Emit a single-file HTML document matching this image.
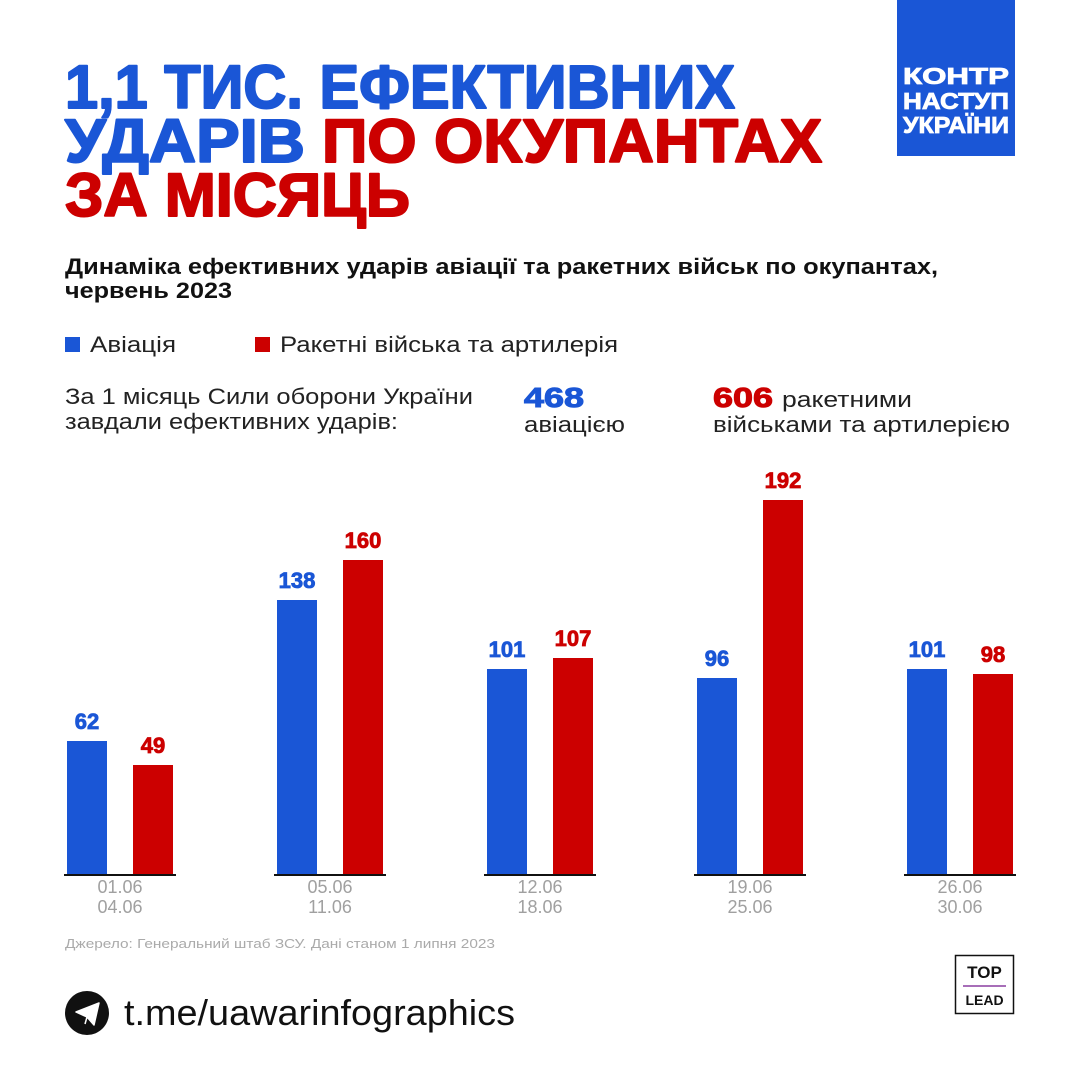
<!DOCTYPE html>
<html><head><meta charset="utf-8"><style>
html,body{margin:0;padding:0;background:#fff;}
svg{display:block;}
text{font-family:"Liberation Sans","DejaVu Sans",sans-serif;}
</style></head><body>
<svg width="1080" height="1080" viewBox="0 0 1080 1080" xmlns="http://www.w3.org/2000/svg">
<rect width="1080" height="1080" fill="#fff"/>
<rect x="897" y="0" width="118" height="156" fill="#1a56d6"/>
<g font-weight="bold" fill="#fff" font-size="23" stroke="#fff" stroke-width="0.8">
<text x="903" y="84" textLength="106" lengthAdjust="spacingAndGlyphs">КОНТР</text>
<text x="903" y="109" textLength="106" lengthAdjust="spacingAndGlyphs">НАСТУП</text>
<text x="903" y="133" textLength="106" lengthAdjust="spacingAndGlyphs">УКРАЇНИ</text>
</g>
<g font-weight="bold" font-size="61" stroke-width="2" stroke-linejoin="round">
<text x="65" y="108" fill="#1a56d6" stroke="#1a56d6" textLength="670" lengthAdjust="spacingAndGlyphs">1,1 ТИС. ЕФЕКТИВНИХ</text>
<text x="65" y="162" fill="#1a56d6" stroke="#1a56d6" textLength="240" lengthAdjust="spacingAndGlyphs">УДАРІВ</text>
<text x="322" y="162" fill="#cc0000" stroke="#cc0000" textLength="500" lengthAdjust="spacingAndGlyphs">ПО ОКУПАНТАХ</text>
<text x="65" y="216" fill="#cc0000" stroke="#cc0000" textLength="345" lengthAdjust="spacingAndGlyphs">ЗА МІСЯЦЬ</text>
</g>
<g font-weight="bold" font-size="22" fill="#111">
<text x="65" y="274" textLength="873" lengthAdjust="spacingAndGlyphs">Динаміка ефективних ударів авіації та ракетних військ по окупантах,</text>
<text x="65" y="298" textLength="167" lengthAdjust="spacingAndGlyphs">червень 2023</text>
</g>
<rect x="65" y="337" width="15" height="15" fill="#1a56d6"/>
<text x="90" y="352" font-size="22" fill="#222" textLength="86" lengthAdjust="spacingAndGlyphs">Авіація</text>
<rect x="255" y="337" width="15" height="15" fill="#cc0000"/>
<text x="280" y="352" font-size="22" fill="#222" textLength="338" lengthAdjust="spacingAndGlyphs">Ракетні війська та артилерія</text>
<g font-size="22" fill="#222">
<text x="65" y="404" textLength="408" lengthAdjust="spacingAndGlyphs">За 1 місяць Сили оборони України</text>
<text x="65" y="429" textLength="333" lengthAdjust="spacingAndGlyphs">завдали ефективних ударів:</text>
<text x="524" y="432" textLength="101" lengthAdjust="spacingAndGlyphs">авіацією</text>
<text x="782" y="407" textLength="130" lengthAdjust="spacingAndGlyphs">ракетними</text>
<text x="713" y="432" textLength="297" lengthAdjust="spacingAndGlyphs">військами та артилерією</text>
</g>
<text x="524" y="407" font-size="28" font-weight="bold" fill="#1a56d6" stroke="#1a56d6" stroke-width="1" textLength="60" lengthAdjust="spacingAndGlyphs">468</text>
<text x="713" y="407" font-size="28" font-weight="bold" fill="#cc0000" stroke="#cc0000" stroke-width="1" textLength="60" lengthAdjust="spacingAndGlyphs">606</text>
<g fill="#1a56d6">
<rect x="67" y="741" width="40" height="134"/>
<rect x="277" y="600" width="40" height="275"/>
<rect x="487" y="669" width="40" height="206"/>
<rect x="697" y="678" width="40" height="197"/>
<rect x="907" y="669" width="40" height="206"/>
</g>
<g fill="#cc0000">
<rect x="133" y="765" width="40" height="110"/>
<rect x="343" y="560" width="40" height="315"/>
<rect x="553" y="658" width="40" height="217"/>
<rect x="763" y="500" width="40" height="375"/>
<rect x="973" y="674" width="40" height="201"/>
</g>
<g stroke="#111" stroke-width="2">
<line x1="64" y1="875" x2="176" y2="875"/>
<line x1="274" y1="875" x2="386" y2="875"/>
<line x1="484" y1="875" x2="596" y2="875"/>
<line x1="694" y1="875" x2="806" y2="875"/>
<line x1="904" y1="875" x2="1016" y2="875"/>
</g>
<g font-size="22" font-weight="bold" text-anchor="middle" stroke-width="0.8">
<text x="87" y="729" fill="#1a56d6" stroke="#1a56d6">62</text>
<text x="153" y="753" fill="#cc0000" stroke="#cc0000">49</text>
<text x="297" y="588" fill="#1a56d6" stroke="#1a56d6">138</text>
<text x="363" y="548" fill="#cc0000" stroke="#cc0000">160</text>
<text x="507" y="657" fill="#1a56d6" stroke="#1a56d6">101</text>
<text x="573" y="646" fill="#cc0000" stroke="#cc0000">107</text>
<text x="717" y="666" fill="#1a56d6" stroke="#1a56d6">96</text>
<text x="783" y="488" fill="#cc0000" stroke="#cc0000">192</text>
<text x="927" y="657" fill="#1a56d6" stroke="#1a56d6">101</text>
<text x="993" y="662" fill="#cc0000" stroke="#cc0000">98</text>
</g>
<g font-size="18" fill="#a0a0a0" text-anchor="middle">
<text x="120" y="893">01.06</text><text x="120" y="913">04.06</text>
<text x="330" y="893">05.06</text><text x="330" y="913">11.06</text>
<text x="540" y="893">12.06</text><text x="540" y="913">18.06</text>
<text x="750" y="893">19.06</text><text x="750" y="913">25.06</text>
<text x="960" y="893">26.06</text><text x="960" y="913">30.06</text>
</g>
<text x="65" y="948" font-size="13" fill="#aaa" textLength="430" lengthAdjust="spacingAndGlyphs">Джерело: Генеральний штаб ЗСУ. Дані станом 1 липня 2023</text>
<circle cx="87" cy="1013" r="22" fill="#111"/>
<path d="M76 1012 L99 1003 L94 1025 L87 1017 Z M87 1017 L85 1024" fill="#fff" stroke="#fff" stroke-width="1.5" stroke-linejoin="round"/>
<text x="124" y="1025" font-size="36" fill="#111" textLength="391" lengthAdjust="spacingAndGlyphs">t.me/uawarinfographics</text>
<rect x="955.5" y="955.5" width="58" height="58" fill="#fff" stroke="#111" stroke-width="1.5"/>
<text x="984.5" y="978" font-size="17" font-weight="bold" fill="#111" text-anchor="middle">TOP</text>
<line x1="963" y1="986" x2="1006" y2="986" stroke="#8a3fa0" stroke-width="1.5"/>
<text x="984.5" y="1005" font-size="14" font-weight="bold" fill="#111" text-anchor="middle">LEAD</text>
</svg>
</body></html>
